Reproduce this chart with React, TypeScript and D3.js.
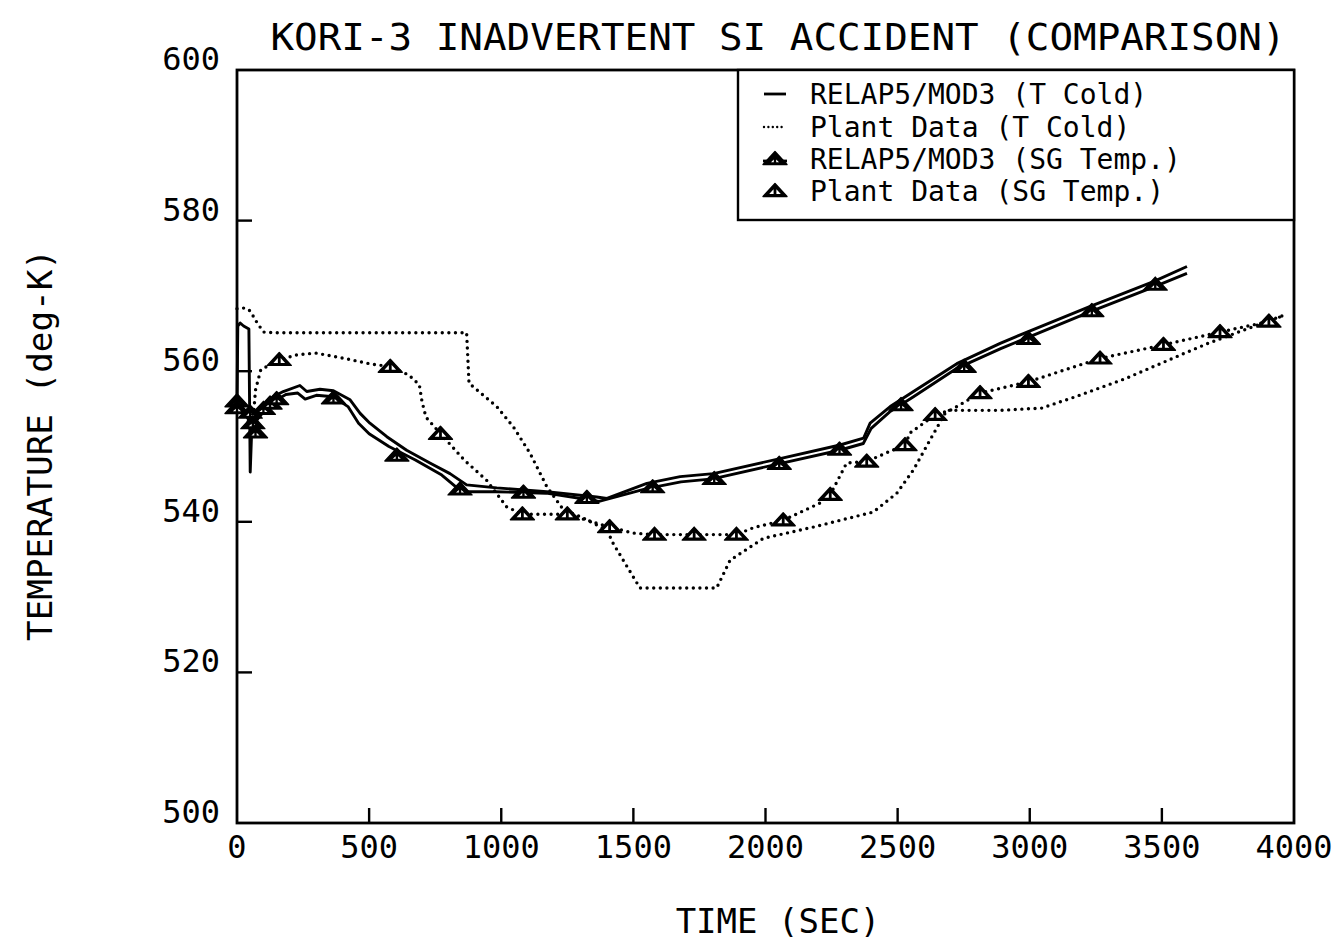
import React from 'react';
import * as d3 from 'd3';

// KORI-3 inadvertent SI accident, temperature comparison
const xTicks = [0, 500, 1000, 1500, 2000, 2500, 3000, 3500, 4000];
const yTicks = [500, 520, 540, 560, 580, 600];

const legendLabels = [
    'RELAP5/MOD3 (T Cold)',
    'Plant Data (T Cold)',
    'RELAP5/MOD3 (SG Temp.)',
    'Plant Data (SG Temp.)'
];

// [time (s), temperature (K)]
const relapTCold: [number, number][] = [
    [0, 555], [3, 566], [12, 566.4], [25, 566], [45, 565.6], [50, 546.6], [56, 552.5],
    [87, 555.1], [137, 556.6], [175, 557.3], [238, 558.1], [264, 557.3], [314, 557.6],
    [365, 557.4], [428, 556.2], [466, 554.4], [503, 553.1], [567, 551.3], [642, 549.5],
    [730, 547.8], [806, 546.4], [869, 544.9], [983, 544.5], [1172, 544], [1361, 543.3],
    [1400, 543.1], [1551, 545.1], [1677, 546], [1803, 546.4], [2055, 548.4], [2282, 550.2],
    [2371, 551.1], [2396, 553.1], [2472, 555.3], [2560, 557.3], [2724, 561], [2888, 563.7],
    [2976, 565], [3229, 568.6], [3468, 571.9], [3595, 573.9]
];

const plantTCold: [number, number][] = [
    [0, 568.3], [30, 568.4], [50, 568], [75, 566.5], [100, 565.2], [150, 565.1], [869, 565.1],
    [878, 558.4], [983, 555.3], [1046, 552.6], [1109, 549.1], [1172, 544.7], [1235, 541.6],
    [1298, 540.7], [1400, 538.9], [1424, 537.1], [1525, 531.2], [1815, 531.2], [1866, 534.9],
    [1992, 537.8], [2181, 539.3], [2408, 541.3], [2497, 543.8], [2560, 546.9], [2623, 550.9],
    [2686, 554.8], [2888, 554.8], [3045, 555.1], [3172, 556.6], [3361, 559], [3600, 562.6],
    [3675, 563.7], [3967, 567.5]
];

const relapSg: [number, number][] = [
    [0, 555.5], [20, 555], [45, 553.5], [60, 552], [75, 553.5], [100, 554.6], [140, 556],
    [185, 556.9], [230, 557.1], [258, 556.3], [300, 556.8], [365, 556.6], [420, 555.3],
    [460, 553.1], [500, 551.7], [575, 550], [675, 548.2], [775, 546.2], [850, 544],
    [980, 544], [1170, 543.8], [1320, 543], [1370, 542.7], [1550, 544.4], [1680, 545.3],
    [1800, 545.7], [2050, 547.7], [2280, 549.5], [2370, 550.4], [2400, 552.4], [2470, 554.6],
    [2560, 556.6], [2720, 560.3], [2890, 563], [2980, 564.3], [3230, 567.9], [3470, 571.2],
    [3595, 573]
];

const relapSgMarks: [number, number][] = [
    [0, 556], [0, 555.1], [50, 554.5], [60, 553.1], [70, 551.9], [100, 555], [125, 555.7],
    [150, 556.3], [365, 556.4], [605, 548.8], [844, 544.3], [1084, 543.9], [1324, 543.2],
    [1573, 544.6], [1806, 545.7], [2052, 547.7], [2280, 549.6], [2513, 555.5], [2752, 560.6],
    [2995, 564.3], [3235, 568], [3475, 571.5]
];

const plantSg: [number, number][] = [
    [0, 555.5], [20, 554.5], [45, 553.2], [58, 552], [62, 554], [70, 557.5], [90, 560.2],
    [160, 561.5], [230, 562.2], [300, 562.4], [360, 562], [420, 561.6], [500, 561],
    [580, 560.6], [650, 559.5], [690, 558.2], [700, 556], [715, 553.9], [770, 551.7],
    [860, 548.2], [945, 545.5], [1020, 542], [1080, 541], [1250, 541], [1410, 539.3],
    [1500, 538.5], [1580, 538.3], [1730, 538.3], [1890, 538.3], [1953, 539.2], [2067, 540.2],
    [2207, 542.5], [2245, 543.6], [2307, 547.8], [2383, 548], [2460, 549.2], [2528, 550.2],
    [2547, 551.8], [2642, 554.2], [2699, 554.8], [2812, 557.1], [2995, 558.6], [3266, 561.7],
    [3506, 563.5], [3720, 565.2], [3905, 566.6], [3967, 567.5]
];

const plantSgMarks: [number, number][] = [
    [160, 561.5], [580, 560.6], [770, 551.7], [1080, 541], [1250, 541], [1410, 539.3],
    [1580, 538.3], [1730, 538.3], [1890, 538.3], [2067, 540.2], [2245, 543.6], [2383, 548],
    [2528, 550.2], [2642, 554.2], [2812, 557.1], [2995, 558.6], [3266, 561.7], [3506, 563.5],
    [3720, 565.2], [3905, 566.6]
];

const font = '"DejaVu Sans Mono", monospace';
const left = 237, right = 1294, top = 70, bottom = 823;

function Marker({ x, y, open }: { x: number, y: number, open?: boolean }) {
    return (
        <g transform={`translate(${x},${y})`}>
            <path d="M0,-7.5 L12,5.5 L-12,5.5 Z" fill="#000" stroke="#000" strokeWidth={1.4} strokeLinejoin="round" />
            {open
                ? <path d="M-5.8,3 L-1.4,-1.8 L-1.4,3 Z M5.8,3 L1.4,-1.8 L1.4,3 Z" fill="#fff" />
                : <path d="M-4,3.2 L-1.2,0.6 L-1.2,3.2 Z M4,3.2 L1.2,0.6 L1.2,3.2 Z" fill="#fff" />}
        </g>
    );
}

export default function App() {
    const x = d3.scaleLinear().domain([0, 4000]).range([left, right]);
    const y = d3.scaleLinear().domain([500, 600]).range([bottom, top]);
    const line = d3.line<[number, number]>().x(d => x(d[0])).y(d => y(d[1]));

    const solid = { fill: 'none', stroke: '#000', strokeWidth: 2.9, strokeLinejoin: 'round' as const };
    const dotted = { fill: 'none', stroke: '#000', strokeWidth: 3.4, strokeDasharray: '0 6.6', strokeLinecap: 'round' as const };

    const legendX = 738;
    const legendBottom = 220;
    const rowY = [94, 127, 159, 191];

    return (
        <svg width={1342} height={944} style={{ position: 'absolute', left: 0, top: 0, background: '#fff' }}>
            <text x={778} y={50} textAnchor="middle" fontFamily={font} fontSize={38}
                  textLength={1015} lengthAdjust="spacingAndGlyphs">
                KORI-3 INADVERTENT SI ACCIDENT (COMPARISON)
            </text>

            {/* frame */}
            <rect x={left} y={top} width={right - left} height={bottom - top} fill="none" stroke="#000" strokeWidth={2.8} />

            {xTicks.map(t => (
                <g key={'x' + t}>
                    {t > 0 && t < 4000 && <line x1={x(t)} x2={x(t)} y1={bottom} y2={bottom - 15} stroke="#000" strokeWidth={2.4} />}
                    <text x={x(t)} y={858} textAnchor="middle" fontFamily={font} fontSize={32}>{t}</text>
                </g>
            ))}
            {yTicks.map(v => (
                <g key={'y' + v}>
                    {v > 500 && v < 600 && <line x1={left} x2={left + 15} y1={y(v)} y2={y(v)} stroke="#000" strokeWidth={2.4} />}
                    <text x={220} y={y(v)} textAnchor="end" fontFamily={font} fontSize={32}>{v}</text>
                </g>
            ))}

            <text x={778} y={933} textAnchor="middle" fontFamily={font} fontSize={34}>TIME (SEC)</text>
            <text transform="translate(52,445) rotate(-90)" textAnchor="middle" fontFamily={font} fontSize={34}
                  textLength={392} lengthAdjust="spacingAndGlyphs">TEMPERATURE (deg-K)</text>

            {/* series */}
            <path d={line(plantTCold) || ''} {...dotted} />
            <path d={line(plantSg) || ''} {...dotted} />
            <path d={line(relapTCold) || ''} {...solid} />
            <path d={line(relapSg) || ''} {...solid} />
            {plantSgMarks.map((d, i) => <Marker key={'p' + i} x={x(d[0])} y={y(d[1])} open />)}
            {relapSgMarks.map((d, i) => <Marker key={'r' + i} x={x(d[0])} y={y(d[1])} />)}

            {/* legend */}
            <rect x={legendX} y={top} width={right - legendX} height={legendBottom - top} fill="#fff" stroke="#000" strokeWidth={2.4} />
            <line x1={764} x2={786} y1={rowY[0]} y2={rowY[0]} stroke="#000" strokeWidth={2.8} />
            <line x1={764} x2={786} y1={rowY[1]} y2={rowY[1]} {...dotted} strokeWidth={2.4} strokeDasharray="0 4.4" />
            <line x1={763} x2={787} y1={rowY[2] + 2} y2={rowY[2] + 2} stroke="#000" strokeWidth={2.8} />
            <Marker x={775} y={rowY[2]} />
            <Marker x={775} y={rowY[3]} open />
            {legendLabels.map((s, i) => (
                <text key={s} x={810} y={rowY[i] + 10} fontFamily={font} fontSize={28} xmlSpace="preserve">{s}</text>
            ))}
        </svg>
    );
}
